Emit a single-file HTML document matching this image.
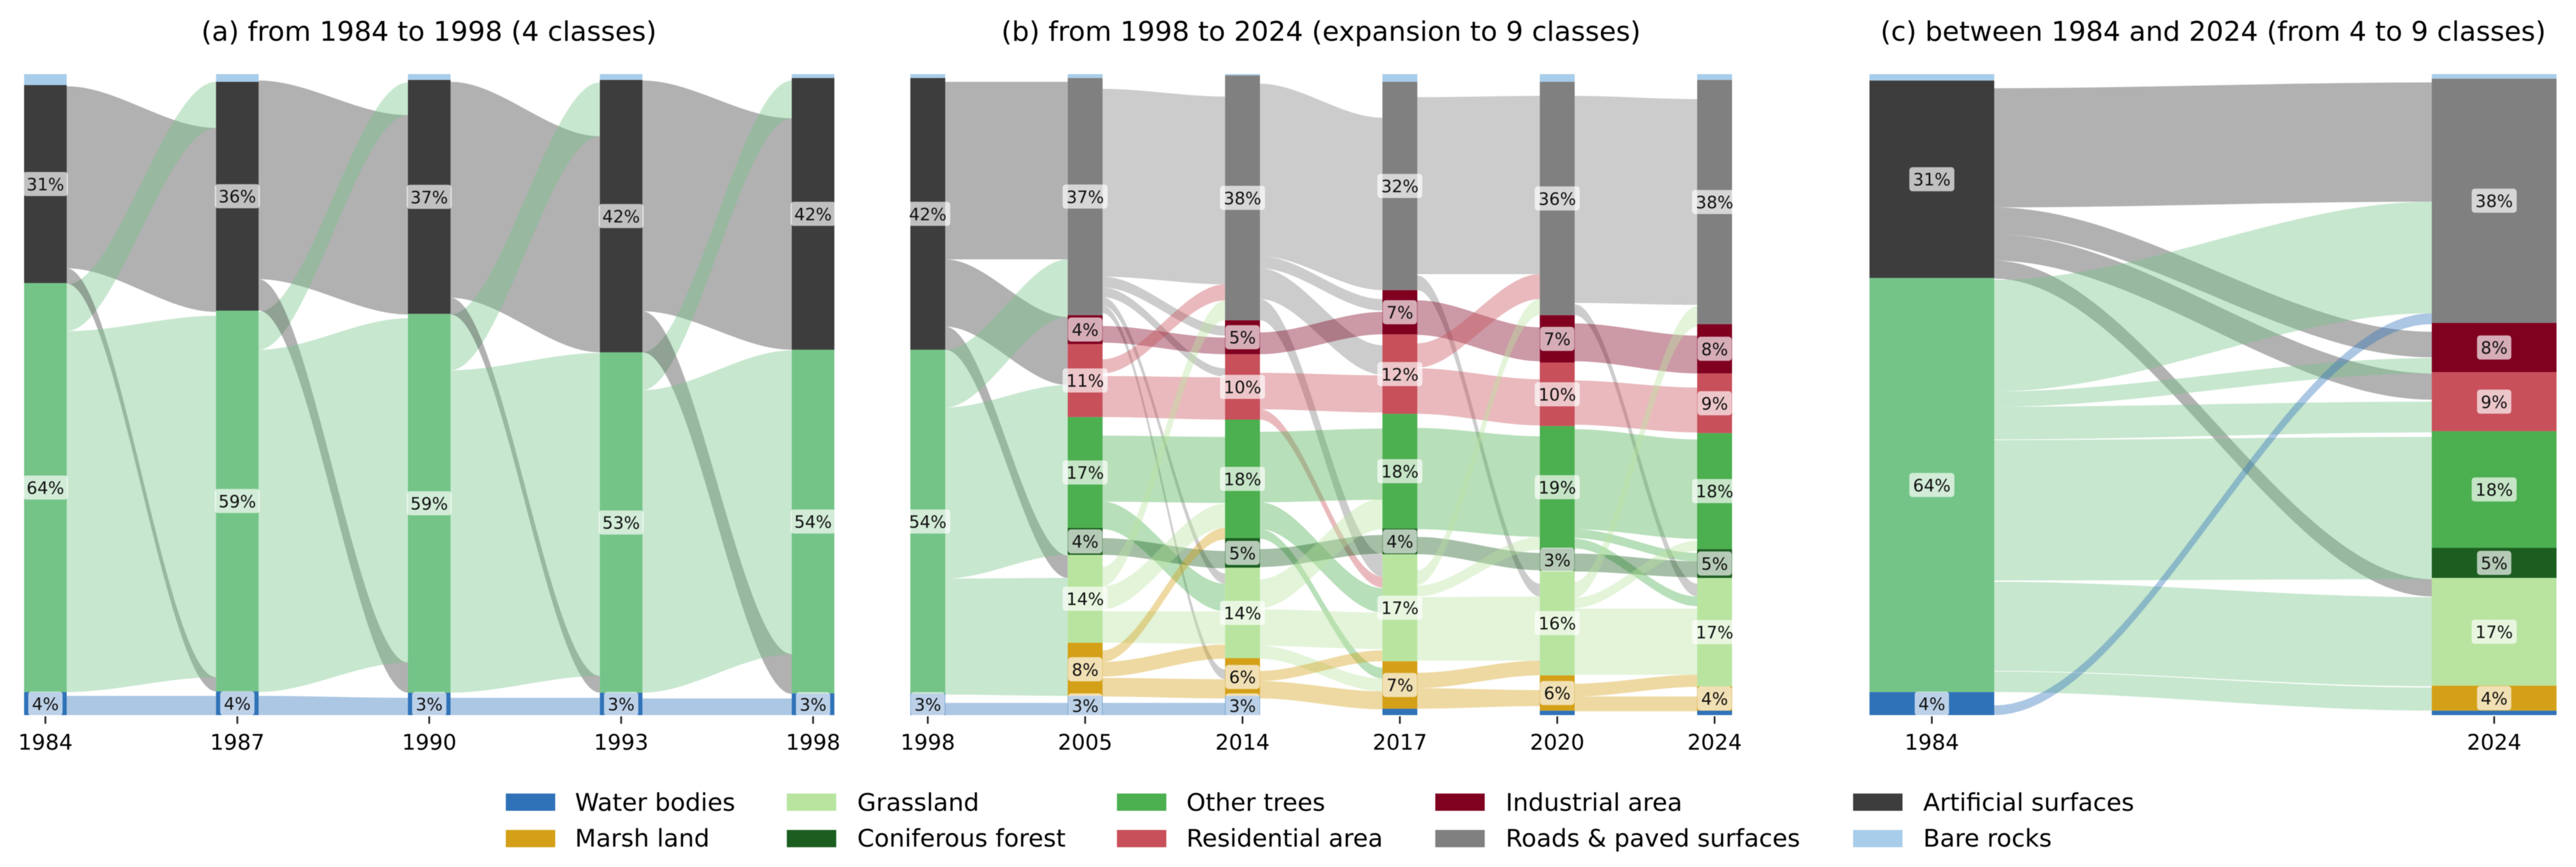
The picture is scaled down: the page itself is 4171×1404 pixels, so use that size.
<!DOCTYPE html>
<html lang="en">
<head>
<meta charset="utf-8">
<title>Land cover transitions 1984 to 2024</title>
<style>
html,body{margin:0;padding:0;background:#fff;}
svg{display:block;font-family:"DejaVu Sans","Liberation Sans",sans-serif;filter:blur(0.6px);}
.title{font-size:44px;fill:#000;text-anchor:middle;}
.legend-text{font-size:39.5px;fill:#000;}
.tick-text{font-size:34.7px;fill:#000;text-anchor:middle;}
.value-text{font-size:27.4px;fill:#111;text-anchor:middle;}
</style>
</head>
<body>
<svg id="chart" xmlns="http://www.w3.org/2000/svg" width="4171" height="1404" viewBox="0 0 4171 1404">
  <rect x="0" y="0" width="4171" height="1404" fill="#ffffff"/>
  <text class="title" x="694.5" y="66">(a) from 1984 to 1998 (4 classes)</text>
  <text class="title" x="2139" y="66">(b) from 1998 to 2024 (expansion to 9 classes)</text>
  <text class="title" x="3583.5" y="66">(c) between 1984 and 2024 (from 4 to 9 classes)</text>
  <g id="flows"></g>
  <g id="bars"></g>
  <g id="labels"></g>
  <g id="ticks"></g>
  <g>
    <g><rect x="819" y="1285" width="80" height="28" fill="#2f72b8"/><text class="legend-text" x="931" y="1313">Water bodies</text></g>
    <g><rect x="819" y="1344" width="80" height="28" fill="#d4a017"/><text class="legend-text" x="931" y="1371">Marsh land</text></g>
    <g><rect x="1274" y="1285" width="80" height="28" fill="#b8e4a0"/><text class="legend-text" x="1388" y="1313">Grassland</text></g>
    <g><rect x="1274" y="1344" width="80" height="28" fill="#1c5e20"/><text class="legend-text" x="1388" y="1371">Coniferous forest</text></g>
    <g><rect x="1808.5" y="1285" width="80" height="28" fill="#4caf50"/><text class="legend-text" x="1921" y="1313">Other trees</text></g>
    <g><rect x="1808.5" y="1344" width="80" height="28" fill="#c8505a"/><text class="legend-text" x="1921" y="1371">Residential area</text></g>
    <g><rect x="2324" y="1285" width="80" height="28" fill="#800020"/><text class="legend-text" x="2438" y="1313">Industrial area</text></g>
    <g><rect x="2324" y="1344" width="80" height="28" fill="#808080"/><text class="legend-text" x="2438" y="1371">Roads &amp; paved surfaces</text></g>
    <g><rect x="3000.5" y="1285" width="80" height="28" fill="#3d3d3d"/><text class="legend-text" x="3114" y="1313">Artificial surfaces</text></g>
    <g><rect x="3000.5" y="1344" width="80" height="28" fill="#a8cdea"/><text class="legend-text" x="3114" y="1371">Bare rocks</text></g>
  </g>
</svg>
<script>
// ---- Panel (a): categories and class shares (percent of area, one entry per year)
const yearsA = ['1984','1987','1990','1993','1998'];
const waterA = [3.6,3.7,3.5,3.5,3.4];
const vegA   = [63.8,59.4,59.1,53.1,53.6];
const artA   = [30.9,35.7,36.5,42.5,42.4];
const bareA  = [1.7,1.2,0.9,0.9,0.6];
const printedWaterA = [4,4,3,3,3];
const printedVegA   = [64,59,59,53,54];
const printedArtA   = [31,36,37,42,42];
// Flow rows: from class, to class, source top, source bottom, target top, target bottom (cumulative %)
const flowsA1 = [
  ['art','art',98.1,69.7,91.6,62.9],
  ['veg','art',67.2,59.9,98.8,91.6],
  ['art','veg',69.7,67.3,5.9,3.7],
  ['veg','veg',59.9,3.6,62.3,5.9],
  ['water','water',3.0,0,3.0,0]
];
const flowsA2 = [
  ['art','art',99.0,68.0,93.6,62.5],
  ['veg','art',62.9,57.0,98.7,93.6],
  ['art','veg',68.0,63.1,8.2,3.5],
  ['veg','veg',57.0,3.6,61.9,8.2],
  ['water','water',3.0,0,2.7,0]
];
const flowsA3 = [
  ['art','art',98.8,65.1,90.3,56.6],
  ['veg','art',62.5,53.8,98.7,90.3],
  ['art','veg',65.1,62.5,6.1,3.5],
  ['veg','veg',53.8,3.5,56.5,6.1],
  ['water','water',2.7,0,2.7,0]
];
const flowsA4 = [
  ['art','art',99.0,63.0,93.1,57.0],
  ['veg','art',56.6,50.7,99.0,93.1],
  ['art','veg',63.0,56.6,9.5,3.3],
  ['veg','veg',50.7,3.5,56.9,9.5],
  ['water','water',2.6,0,2.6,0]
];

// ---- Panel (b)
const yearsB   = ['1998','2005','2014','2017','2020','2024'];
const waterB   = [3.4,3.0,3.0,1.0,0.7,0.7];
const marshB   = [0,8.3,5.9,7.4,5.5,3.8];
const grassB   = [0,13.7,14.1,16.7,16.3,16.9];
const coniferB = [0,4.2,4.6,4.0,3.5,4.5];
const treesB   = [0,17.3,18.5,17.9,19.1,18.1];
const resB     = [0,11.4,10.2,12.4,9.9,9.3];
const indB     = [0,4.5,5.3,6.9,7.4,7.7];
const roadsB   = [0,37.0,38.2,32.5,36.4,38.1];
const vegB     = [53.6,0,0,0,0,0];
const artB     = [42.4,0,0,0,0,0];
const bareB    = [0.6,0.6,0.2,1.2,1.2,0.9];
const printedWaterB   = [3,3,3,null,null,null];
const printedMarshB   = [null,8,6,7,6,4];
const printedGrassB   = [null,14,14,17,16,17];
const printedConiferB = [null,4,5,4,3,5];
const printedTreesB   = [null,17,18,18,19,18];
const printedResB     = [null,11,10,12,10,9];
const printedIndB     = [null,4,5,7,7,8];
const printedRoadsB   = [null,37,38,32,36,38];
const printedVegB     = [54,null,null,null,null,null];
const printedArtB     = [42,null,null,null,null,null];
const flowsB1 = [
  ['art','roads',98.8,71.1,98.8,71.1],
  ['art','res',71.1,60.6,62.1,51.5],
  ['art','grass',60.6,57.0,24.9,21.4],
  ['veg','roads',57.0,48.0,71.1,62.1],
  ['veg','res',48.0,43.4,51.5,46.5],
  ['veg','trees',43.4,26.1,46.5,29.2],
  ['veg','conifer',26.1,21.3,29.2,25.0],
  ['veg','grass',21.3,11.1,21.4,11.3],
  ['veg','marsh',11.1,3.2,11.3,3.0],
  ['water','water',1.9,0,1.9,0]
];
const flowsB2 = [
  ['roads','roads',97.7,68.4,96.5,67.2],
  ['roads','ind',68.4,66.7,60.7,59.2],
  ['roads','res',66.7,65.2,54.1,52.8],
  ['roads','grass',65.2,63.9,22.1,20.5],
  ['roads','marsh',63.9,62.7,7.1,5.6],
  ['ind','ind',60.7,58.1,58.9,56.3],
  ['res','roads',55.5,53.3,67.2,64.7],
  ['res','res',52.9,46.5,52.7,46.1],
  ['trees','trees',43.6,33.3,43.4,33.1],
  ['trees','grass',33.3,29.0,20.5,16.2],
  ['conifer','conifer',27.6,25.0,25.6,22.9],
  ['grass','roads',23.1,20.1,64.7,61.6],
  ['grass','trees',20.1,16.5,33.0,29.2],
  ['grass','grass',16.2,11.3,16.2,11.1],
  ['marsh','conifer',10.1,8.3,29.2,27.4],
  ['marsh','grass',8.3,6.0,11.0,8.8],
  ['marsh','marsh',5.8,2.9,5.6,2.6],
  ['water','water',1.9,0,1.9,0]
];
const flowsB3 = [
  ['roads','roads',98.5,71.6,93.2,66.3],
  ['roads','ind',71.6,69.7,64.9,63.1],
  ['roads','res',69.7,64.9,57.7,53.1],
  ['roads','grass',64.9,61.6,25.1,21.6],
  ['ind','ind',59.7,56.3,62.9,59.4],
  ['res','res',53.4,47.7,53.0,47.2],
  ['res','grass',47.7,46.1,21.6,19.9],
  ['trees','trees',44.2,33.2,44.7,33.6],
  ['trees','grass',33.2,29.0,19.8,16.0],
  ['trees','marsh',29.0,27.5,7.4,5.7],
  ['conifer','conifer',25.9,23.1,28.1,25.2],
  ['grass','trees',21.2,16.7,33.8,29.0],
  ['grass','grass',16.5,10.8,16.0,10.3],
  ['grass','marsh',10.8,8.8,5.7,3.7],
  ['marsh','grass',6.9,5.3,10.1,8.4],
  ['marsh','marsh',5.3,2.6,3.7,0.9]
];
const flowsB4 = [
  ['roads','roads',96.4,68.8,96.6,68.8],
  ['roads','grass',68.6,66.3,20.5,18.5],
  ['ind','ind',64.7,59.3,60.5,55.2],
  ['res','roads',58.0,54.2,68.8,64.9],
  ['res','res',54.1,47.0,52.4,45.2],
  ['trees','trees',44.8,29.0,43.5,27.8],
  ['conifer','conifer',27.8,25.1,25.3,22.6],
  ['grass','roads',22.6,20.3,64.9,62.4],
  ['grass','trees',20.2,18.5,27.8,25.8],
  ['grass','grass',18.4,8.5,18.5,8.5],
  ['marsh','grass',6.6,4.2,8.5,6.2],
  ['marsh','marsh',4.2,1.0,3.9,1.4]
];
const flowsB5 = [
  ['roads','roads',96.6,64.3,96.1,64.0],
  ['roads','grass',64.1,62.4,20.5,18.5],
  ['ind','ind',61.1,55.2,59.2,53.3],
  ['res','res',52.2,45.3,51.1,44.1],
  ['trees','trees',44.6,29.0,43.0,27.5],
  ['trees','conifer',29.0,27.6,25.3,24.0],
  ['trees','grass',27.5,26.0,18.5,17.0],
  ['conifer','conifer',25.2,22.4,24.0,21.5],
  ['grass','roads',20.8,18.3,63.8,60.6],
  ['grass','trees',18.3,16.7,27.2,25.6],
  ['grass','grass',16.6,6.3,16.6,6.3],
  ['marsh','grass',4.9,2.9,6.3,4.4],
  ['marsh','marsh',2.9,0.6,2.9,0.6]
];

// ---- Panel (c)
const yearsC   = ['1984','2024'];
const waterC   = [3.6,0.7];
const marshC   = [0,3.9];
const grassC   = [0,16.8];
const coniferC = [0,4.7];
const treesC   = [0,18.2];
const resC     = [0,9.2];
const indC     = [0,7.7];
const roadsC   = [0,38.1];
const vegC     = [64.6,0];
const artC     = [30.8,0];
const bareC    = [1.0,0.7];
const printedWaterC   = [4,null];
const printedMarshC   = [null,4];
const printedGrassC   = [null,17];
const printedConiferC = [null,5];
const printedTreesC   = [null,18];
const printedResC     = [null,9];
const printedIndC     = [null,8];
const printedRoadsC   = [null,38];
const printedVegC     = [64,null];
const printedArtC     = [31,null];
const flowsC = [
  ['art','roads',97.8,79.2,98.7,80.1],
  ['art','ind',79.2,75.0,59.8,55.8],
  ['art','res',75.0,70.9,53.3,49.2],
  ['art','grass',70.9,68.1,21.2,18.5],
  ['veg','roads',67.9,50.5,80.1,62.7],
  ['veg','ind',50.5,48.1,55.7,53.3],
  ['veg','res',48.1,43.0,48.9,44.1],
  ['veg','trees',42.9,25.5,43.4,25.7],
  ['veg','conifer',25.5,21.0,25.7,21.2],
  ['veg','grass',20.8,6.9,18.4,4.5],
  ['veg','marsh',6.8,3.6,4.3,0.7],
  ['water','roads',1.5,0,62.7,61.0]
];

// ---- Styling and layout
const classColors = {
  water:'#2f72b8', marsh:'#d4a017', grass:'#b8e4a0', conifer:'#1c5e20', trees:'#4caf50',
  res:'#c8505a', ind:'#800020', roads:'#808080', veg:'#74c487', art:'#3d3d3d', bare:'#a8cdea'
};
const FLOW_ALPHA = 0.4;
const PLOT_BOTTOM = 1158, PLOT_TOP = 120;
const SVGNS = 'http://www.w3.org/2000/svg';
const yScale = function (pct) { return PLOT_BOTTOM - (pct / 100) * (PLOT_BOTTOM - PLOT_TOP); };
const smooth = function (t) { return t * t * (3 - 2 * t); };

function flowPath(x0, x1, srcTop, srcBot, dstTop, dstBot) {
  const N = 48;
  const up = [], down = [];
  for (let i = 0; i <= N; i++) {
    const t = i / N, s = smooth(t), x = x0 + (x1 - x0) * t;
    up.push(x.toFixed(2) + ',' + (yScale(srcTop) + (yScale(dstTop) - yScale(srcTop)) * s).toFixed(2));
    down.push(x.toFixed(2) + ',' + (yScale(srcBot) + (yScale(dstBot) - yScale(srcBot)) * s).toFixed(2));
  }
  return 'M' + up.join('L') + 'L' + down.reverse().join('L') + 'Z';
}

function drawPanel(id, leftEdge, lastEdge, barWidth, years, stack, gaps) {
  const xScale = function (i) { return years.length > 1 ? leftEdge + i * (lastEdge - leftEdge) / (years.length - 1) : leftEdge; };
  const flowLayer = document.getElementById('flows');
  const barLayer = document.getElementById('bars');
  const labelLayer = document.getElementById('labels');
  const tickLayer = document.getElementById('ticks');

  gaps.forEach(function (rows, g) {
    rows.forEach(function (row) {
      const p = document.createElementNS(SVGNS, 'path');
      p.setAttribute('d', flowPath(xScale(g) + barWidth, xScale(g + 1), row[2], row[3], row[4], row[5]));
      p.setAttribute('fill', classColors[row[0]]);
      p.setAttribute('fill-opacity', FLOW_ALPHA);
      
      
      flowLayer.appendChild(p);
    });
  });

  years.forEach(function (year, i) {
    let cum = 0;
    const x = xScale(i);
    stack.forEach(function (layer) {
      const key = layer[0], value = layer[1][i], printed = layer[2] ? layer[2][i] : null;
      if (value > 0) {
        const yTop = yScale(cum + value), yBot = yScale(cum);
        const r = document.createElementNS(SVGNS, 'rect');
        r.setAttribute('x', x);
        r.setAttribute('y', yTop);
        r.setAttribute('width', barWidth);
        r.setAttribute('height', yBot - yTop);
        r.setAttribute('fill', classColors[key]);
        
        
        barLayer.appendChild(r);
        if (printed !== null && printed !== undefined) {
          const cx = x + barWidth / 2, cy = (yTop + yBot) / 2;
          const box = document.createElementNS(SVGNS, 'rect');
          const t = document.createElementNS(SVGNS, 'text');
          t.setAttribute('class', 'value-text');
          t.setAttribute('x', cx);
          t.setAttribute('y', cy + 10);
          t.textContent = printed + '%';
          
          
          box.setAttribute('fill', '#ffffff');
          box.setAttribute('fill-opacity', '0.68');
          box.setAttribute('rx', '5');
          
          
          labelLayer.appendChild(box);
          labelLayer.appendChild(t);
          const w = t.getComputedTextLength() + 12;
          box.setAttribute('x', cx - w / 2);
          box.setAttribute('y', cy - 19.5);
          box.setAttribute('width', w);
          box.setAttribute('height', 39);
        }
      }
      cum += value;
    });
    const cx = x + barWidth / 2;
    const tick = document.createElementNS(SVGNS, 'line');
    tick.setAttribute('x1', cx);
    tick.setAttribute('x2', cx);
    tick.setAttribute('y1', 1160);
    tick.setAttribute('y2', 1172);
    tick.setAttribute('stroke', '#222');
    tick.setAttribute('stroke-width', '2.8');
    
    
    tickLayer.appendChild(tick);
    const label = document.createElementNS(SVGNS, 'text');
    label.setAttribute('class', 'tick-text');
    label.setAttribute('x', cx);
    label.setAttribute('y', 1214);
    label.textContent = year;
    
    
    tickLayer.appendChild(label);
  });
}

drawPanel('a', 39, 1282, 69, yearsA, [
  ['water', waterA, printedWaterA],
  ['veg', vegA, printedVegA],
  ['art', artA, printedArtA],
  ['bare', bareA, null]
], [flowsA1, flowsA2, flowsA3, flowsA4]);

drawPanel('b', 1474, 2748, 56.5, yearsB, [
  ['water', waterB, printedWaterB],
  ['marsh', marshB, printedMarshB],
  ['grass', grassB, printedGrassB],
  ['conifer', coniferB, printedConiferB],
  ['trees', treesB, printedTreesB],
  ['res', resB, printedResB],
  ['ind', indB, printedIndB],
  ['roads', roadsB, printedRoadsB],
  ['veg', vegB, printedVegB],
  ['art', artB, printedArtB],
  ['bare', bareB, null]
], [flowsB1, flowsB2, flowsB3, flowsB4, flowsB5]);

drawPanel('c', 3027, 3937.5, 202, yearsC, [
  ['water', waterC, printedWaterC],
  ['marsh', marshC, printedMarshC],
  ['grass', grassC, printedGrassC],
  ['conifer', coniferC, printedConiferC],
  ['trees', treesC, printedTreesC],
  ['res', resC, printedResC],
  ['ind', indC, printedIndC],
  ['roads', roadsC, printedRoadsC],
  ['veg', vegC, printedVegC],
  ['art', artC, printedArtC],
  ['bare', bareC, null]
], [flowsC]);
</script>
</body>
</html>
